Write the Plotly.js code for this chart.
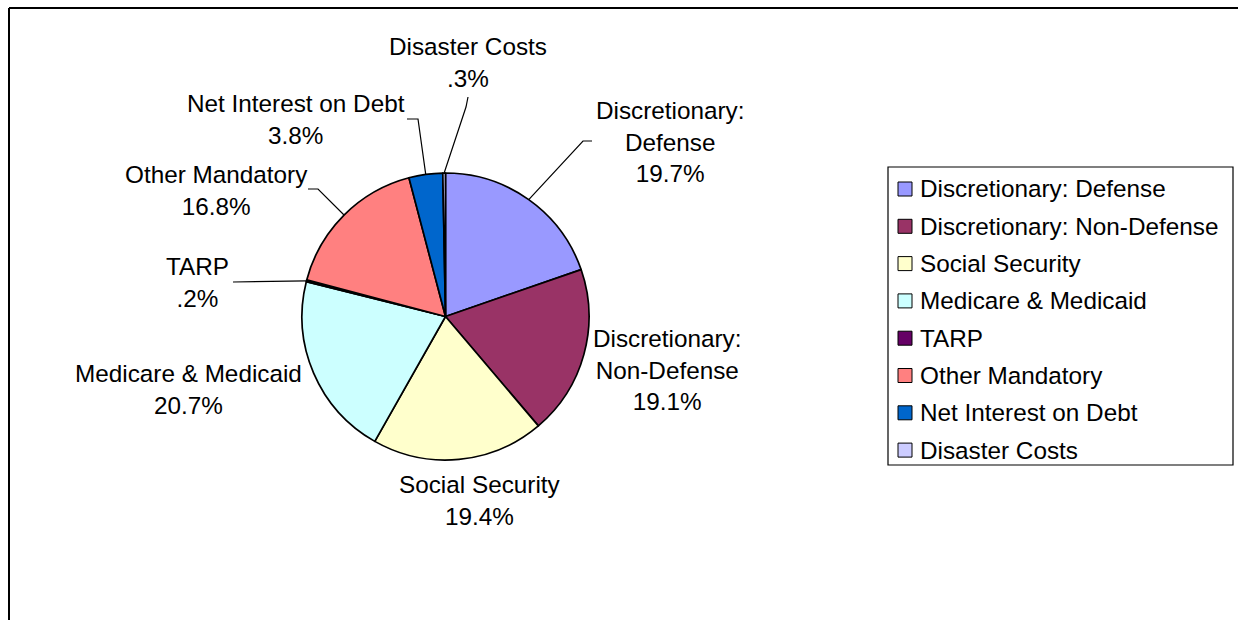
<!DOCTYPE html>
<html>
<head>
<meta charset="utf-8">
<script src="https://cdn.plot.ly/plotly-3.0.1.min.js"></script>
<style>
  html, body { margin: 0; padding: 0; background: #ffffff; }
  #chart { width: 1238px; height: 620px; }
</style>
</head>
<body>
<div id="chart"></div>
<script>
// ---- data ----
const categories = [
  "Discretionary: Defense",
  "Discretionary: Non-Defense",
  "Social Security",
  "Medicare & Medicaid",
  "TARP",
  "Other Mandatory",
  "Net Interest on Debt",
  "Disaster Costs"
];
const pieLabelNames = [
  "Discretionary:<br>Defense",
  "Discretionary:<br>Non-Defense",
  "Social Security",
  "Medicare & Medicaid",
  "TARP",
  "Other Mandatory",
  "Net Interest on Debt",
  "Disaster Costs"
];
const shares = [19.7, 19.1, 19.4, 20.7, 0.2, 16.8, 3.8, 0.3];
const sliceColors = ["#9999FF", "#993366", "#FFFFCC", "#CCFFFF", "#660066", "#FF8080", "#0066CC", "#CCCCFF"];

// ---- layout constants (pixels) ----
const W = 1238, H = 620;
const CX = 445.5, CY = 316.5, R = 143.5;
const FONT = "Liberation Sans, Arial, sans-serif";
const FS = 24.3;
const labelPos = [
  [670, 142], [667, 370], [480, 500.5], [188, 389.5],
  [197, 282], [216, 190.5], [296, 119.5], [468, 62.5]
];
const leaderBends = {
  0: [[583, 141], [592, 141]],
  4: [[233, 282]],
  5: [[318, 189], [308, 189]],
  6: [[418, 119], [407, 119]],
  7: [[466, 107], [468, 97]]
};
const px = x => x / W;
const py = y => 1 - y / H;

function fmtPct(v) {
  let s = v.toFixed(1);
  if (s.startsWith("0")) s = s.slice(1);
  return s + "%";
}

const total = shares.reduce((a, b) => a + b, 0);

const trace = {
  type: "pie",
  labels: categories,
  values: shares,
  sort: false,
  direction: "clockwise",
  rotation: 0,
  textinfo: "none",
  hoverinfo: "label+percent",
  marker: { colors: sliceColors, line: { color: "#000000", width: 1.7 } },
  domain: { x: [px(CX - R), px(CX + R)], y: [py(CY + R), py(CY - R)] },
  showlegend: false
};

const shapes = [];
const annotations = [];

// outer frame (top and left edges)
shapes.push({ type: "line", xref: "paper", yref: "paper", x0: px(9), y0: py(8), x1: px(1240), y1: py(8), line: { color: "#000", width: 2 } });
shapes.push({ type: "line", xref: "paper", yref: "paper", x0: px(9), y0: py(8), x1: px(9), y1: py(625), line: { color: "#000", width: 2 } });

// pie labels and leader lines
let cum = 0;
shares.forEach((v, i) => {
  const mid = (cum + v / 2) / total;
  cum += v;
  const th = mid * 2 * Math.PI;
  const sx = CX + R * Math.sin(th);
  const sy = CY - R * Math.cos(th);
  annotations.push({
    xref: "paper", yref: "paper",
    x: px(labelPos[i][0]), y: py(labelPos[i][1]),
    xanchor: "center", yanchor: "middle", align: "center",
    showarrow: false,
    text: pieLabelNames[i] + "<br>" + fmtPct(v),
    font: { family: FONT, size: FS, color: "#000" }
  });
  if (leaderBends[i]) {
    let d = "M" + px(sx) + "," + py(sy);
    leaderBends[i].forEach(p => { d += " L" + px(p[0]) + "," + py(p[1]); });
    shapes.push({ type: "path", xref: "paper", yref: "paper", path: d, line: { color: "#000", width: 1.2 } });
  }
});

// legend box
shapes.push({ type: "rect", xref: "paper", yref: "paper", x0: px(888), y0: py(167), x1: px(1233), y1: py(465), line: { color: "#000", width: 1.2 }, fillcolor: "rgba(0,0,0,0)" });
categories.forEach((c, i) => {
  const yc = 189 + i * 37.3;
  shapes.push({ type: "rect", xref: "paper", yref: "paper", x0: px(898), x1: px(912), y0: py(yc - 7), y1: py(yc + 7), fillcolor: sliceColors[i], line: { color: "#000", width: 1 } });
  annotations.push({
    xref: "paper", yref: "paper", x: px(918), y: py(yc),
    xanchor: "left", yanchor: "middle", align: "left", showarrow: false,
    text: c, font: { family: FONT, size: FS, color: "#000" }
  });
});

const layout = {
  width: W, height: H,
  margin: { l: 0, r: 0, t: 0, b: 0 },
  paper_bgcolor: "#ffffff",
  plot_bgcolor: "#ffffff",
  showlegend: false,
  shapes: shapes,
  annotations: annotations
};

Plotly.newPlot("chart", [trace], layout, { displayModeBar: false, staticPlot: true });
</script>
</body>
</html>
